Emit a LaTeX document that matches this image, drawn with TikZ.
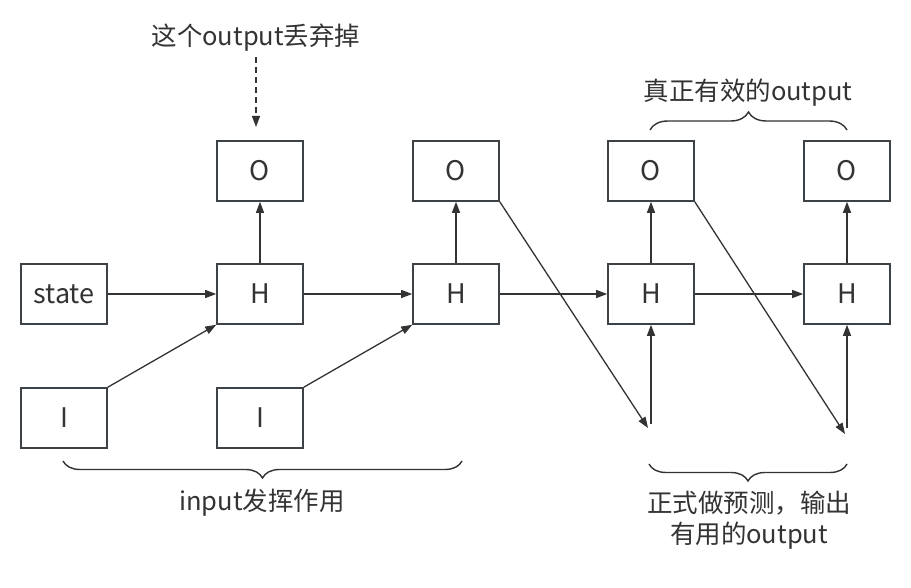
\documentclass[tikz,border=0pt]{standalone}
\usepackage{fontspec}
\setmainfont{Noto Sans CJK SC}
\usetikzlibrary{arrows.meta,decorations.pathreplacing}
\definecolor{ink}{HTML}{333333}
\definecolor{boxline}{HTML}{3C4246}
\begin{document}
\begin{tikzpicture}[x=1pt,y=-1pt,
  cell/.style={draw=boxline,line width=1.6pt,minimum width=86pt,minimum height=60pt,inner sep=0pt,
    font=\fontsize{27}{32}\selectfont,text=ink},
  lab/.style={font=\fontsize{25.5}{30}\selectfont,text=ink,inner sep=0pt,align=center},
  conn/.style={draw=ink,line width=1.3pt,-{Triangle[length=11pt,width=8pt]}},
  brc/.style={draw=ink,line width=1.4pt,decorate,decoration={brace,amplitude=17pt}}]
\useasboundingbox (0,0) rectangle (911,588);
% boxes
\node[cell] (S)  at (64,294) {state};
\node[cell] (H1) at (260,294) {H};
\node[cell] (H2) at (456,294) {H};
\node[cell] (H3) at (651,294) {H};
\node[cell] (H4) at (847,294) {H};
\node[cell] (O1) at (260,171) {O};
\node[cell] (O2) at (456,171) {O};
\node[cell] (O3) at (651,171) {O};
\node[cell] (O4) at (847,171) {O};
\node[cell] (I1) at (64,418) {I};
\node[cell] (I2) at (260,418) {I};
% labels
\node[lab] (L1) at (256,38) {这个output丢弃掉};
\node[lab] (L2) at (748,93) {真正有效的output};
\node[lab] (L3) at (262,503) {input发挥作用};
\node[lab,font=\fontsize{25.5}{31}\selectfont] (L4) at (749,520) {正式做预测，输出\\有用的output};
% free ends
\coordinate (d0) at (256,57);
\coordinate (d1) at (256,127);
\coordinate (p3) at (651,424);
\coordinate (p4) at (847,428);
\coordinate (q3) at (648,428);
\coordinate (q4) at (845,434);
% connectors
\draw[conn] (S) -- (H1);
\draw[conn] (H1) -- (H2);
\draw[conn] (H2) -- (H3);
\draw[conn] (H3) -- (H4);
\foreach \k in {1,2,3,4}{\draw[conn] (H\k) -- (O\k);}
\draw[conn] (I1.north east) -- (H1.south west);
\draw[conn] (I2.north east) -- (H2.south west);
\draw[conn] (O2.south east) -- (q3);
\draw[conn] (O3.south east) -- (q4);
\draw[conn] (p3) -- (H3.south);
\draw[conn] (p4) -- (H4.south);
\draw[conn,dashed,dash pattern=on 6pt off 4pt] (d0) -- (d1);
% braces
\draw[brc,decoration={amplitude=18pt}] (650,130) -- (847,130);
\draw[brc] (462,461) -- (63,461);
\draw[brc] (847,464) -- (649,464);
\end{tikzpicture}
\end{document}
